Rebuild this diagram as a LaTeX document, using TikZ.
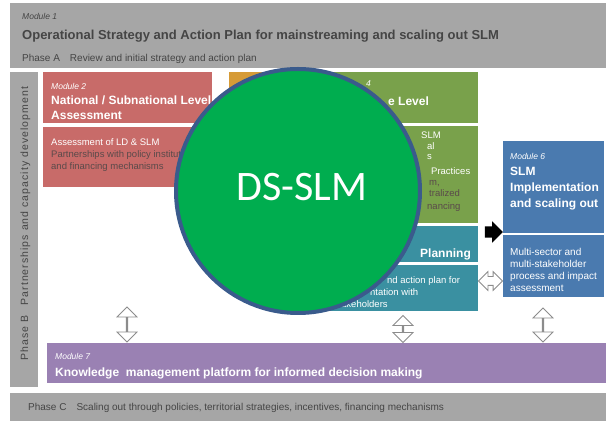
\documentclass[tikz,border=0pt]{standalone}
\usepackage{fontspec}
\setmainfont{Liberation Sans}
\newfontfamily\calibri{Carlito}
\newfontfamily\spaced[LetterSpace=10]{Liberation Sans}
\usetikzlibrary{positioning,shapes.arrows}
\definecolor{bandgray}{HTML}{A6A6A6}
\definecolor{inkgray}{HTML}{454545}
\definecolor{bodyink}{HTML}{5A4A4A}
\definecolor{modred}{HTML}{C86B69}
\definecolor{modorange}{HTML}{D69B37}
\definecolor{modgreen}{HTML}{79A14B}
\definecolor{modteal}{HTML}{3A90A1}
\definecolor{modblue}{HTML}{4A7AAF}
\definecolor{modpurple}{HTML}{9A81B3}
\definecolor{dsgreen}{HTML}{00AD4F}
\definecolor{dsrim}{HTML}{3A5B8C}
\newcommand{\pxsize}[2]{\fontsize{#1}{#2}\selectfont}

\begin{document}
\begin{tikzpicture}[
    x=1pt, y=-1pt,
    block/.style={
        anchor=north west,
        inner sep=0,
        outer sep=0,
    },
    txt/.style={
        anchor=base west,
        inner sep=0,
        text=white,
        font=\pxsize{9.5}{12},
    },
    para/.style={
        anchor=north west,
        inner sep=0,
        align=left,
        text=white,
    },
    hollow/.style={
        double arrow,
        draw=black!45,
        fill=white,
        line width=0.8,
        inner xsep=0,
        inner ysep=4,
        minimum width=20,
        double arrow head extend=6,
    },
]
\useasboundingbox (0,0) rectangle (606,427);

% Phase A band (Module 1)
\node[block, fill=bandgray, minimum width=596, minimum height=65] (m1) at (10,3) {};
\node[txt, text=inkgray, font=\itshape\pxsize{8.5}{10}] (m1tag) at (22,20) {Module 1};
\node[txt, text=inkgray, font=\bfseries\pxsize{13}{15}] (m1title) at (22,39.5)
    {Operational Strategy and Action Plan for mainstreaming and scaling out SLM};
\node[txt, text=inkgray, font=\pxsize{10}{12}] (phaseA) at (22,61.5)
    {Phase A\quad Review and initial strategy and action plan};

% Phase B bar
\node[block, fill=bandgray, minimum width=28, minimum height=315] (phB) at (10,72) {};
\node[rotate=90, anchor=base west, inner sep=0, text=inkgray, font=\spaced\pxsize{10.5}{12}] (phBtext) at (28,361)
    {Phase B\quad Partnerships and capacity development};

% Module 2
\node[block, fill=modred, minimum width=169, minimum height=51] (m2head) at (43,72) {};
\node[block, fill=modred, minimum width=169, minimum height=60] (m2body) at (43,127) {};
\node[para, font=\bfseries\pxsize{12}{15}] (m2title) at (51,83)
    {{\mdseries\itshape\pxsize{8.5}{15}Module 2}\\ National / Subnational Level\\ Assessment};
\node[para, font=\pxsize{9.5}{12}] (m2text) at (51,138)
    {Assessment of LD \& SLM\\ \textcolor{bodyink}{Partnerships with policy institut}\\ \textcolor{bodyink}{and financing mechanisms}};

% Modules 3 and 4 (mostly under the circle)
\node[block, fill=modorange, minimum width=71, minimum height=51] (m3head) at (229,72) {};
\node[block, fill=modgreen, minimum width=178, minimum height=51] (m4head) at (300,72) {};
\node[block, fill=modgreen, minimum width=249, minimum height=97] (m4body) at (229,126) {};
\node[txt, font=\itshape\pxsize{8.5}{10}] (m4tag) at (366,87) {4};
\node[txt, font=\bfseries\pxsize{12}{15}] (m4title) at (388,106) {e Level};
\node[txt] (m4l1) at (421,138.5) {SLM};
\node[txt] (m4l2) at (427,149.5) {al};
\node[txt] (m4l3) at (427,159.5) {s};
\node[txt] (m4l4) at (431,174.5) {Practices};
\node[txt, text=bodyink] (m4l5) at (429,185.5) {m,};
\node[txt, text=bodyink] (m4l6) at (429,196.5) {tralized};
\node[txt, text=bodyink] (m4l7) at (427,209.5) {nancing};

% Module 5
\node[block, fill=modteal, minimum width=181, minimum height=36] (m5head) at (297,226) {};
\node[block, fill=modteal, minimum width=181, minimum height=46] (m5body) at (297,265) {};
\node[txt, font=\bfseries\pxsize{12}{15}] (m5title) at (420,258) {Planning};
\node[txt] (m5l1) at (387,284) {nd action plan for};
\node[txt] (m5l2) at (370,296) {ntation with};
\node[txt] (m5l3) at (341,307.5) {akeholders};

% Module 6
\node[block, fill=modblue, minimum width=101, minimum height=92] (m6head) at (503,141) {};
\node[block, fill=modblue, minimum width=101, minimum height=62] (m6body) at (503,235) {};
\node[para, font=\bfseries\pxsize{12}{16}] (m6title) at (510,153)
    {{\mdseries\itshape\pxsize{8.5}{16}Module 6}\\ SLM\\ Implementation\\ and scaling out};
\node[para, font=\pxsize{10}{12}] (m6text) at (510,248)
    {Multi-sector and\\ multi-stakeholder\\ process and impact\\ assessment};

% Module 7
\node[block, fill=modpurple, minimum width=559, minimum height=40] (m7) at (47,343) {};
\node[para, font=\bfseries\pxsize{12}{17}] (m7title) at (55,353)
    {{\mdseries\itshape\pxsize{8.5}{17}Module 7}\\ Knowledge\ \ management platform for informed decision making};

% Phase C band
\node[block, fill=bandgray, minimum width=596, minimum height=28] (phC) at (10,393) {};
\node[txt, text=inkgray, font=\pxsize{10}{12}] (phaseC) at (28,410.5)
    {Phase C\quad Scaling out\ through policies, territorial strategies, incentives, financing mechanisms};

% arrows
\node[single arrow, fill=black, inner xsep=0, inner ysep=5.5, minimum width=21, minimum height=18,
      single arrow head extend=5] (go6) at (491,232) {};
\node[hollow, minimum width=18, minimum height=24, double arrow head extend=5] (a56) at (490.5,281) {};
\node[hollow, shape border rotate=90, minimum height=35] (a27) at (127,324.5) {};
\node[hollow, shape border rotate=90, minimum height=27] (a57) at (403,329) {};
\node[hollow, shape border rotate=90, minimum height=34] (a67) at (543,325) {};

% DS-SLM disc on top
\node[circle, fill=dsgreen, draw=dsrim, line width=4, minimum size=244, inner sep=0] (ds) at (298,191) {};
\node[text=white, inner sep=0, font=\calibri\pxsize{42}{42}] (dstext) at (302,187.5) {DS-SLM};

\end{tikzpicture}
\end{document}
